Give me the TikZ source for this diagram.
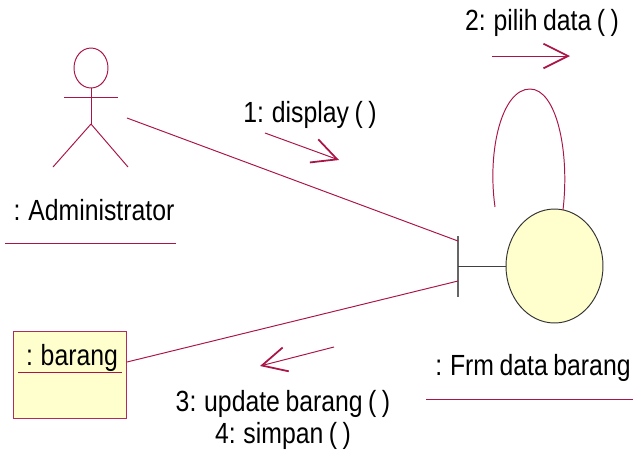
\documentclass[tikz,border=0pt]{standalone}
\usepackage{fontspec}
\setmainfont[FakeStretch=0.85,WordSpace=0.8]{Liberation Sans}
\usepackage{xcolor}
\usetikzlibrary{shapes,arrows.meta}
\definecolor{rosewood}{RGB}{170,20,70}
\definecolor{lightyellow}{RGB}{255,255,206}
\tikzset{
  lnk/.style={rosewood,line width=.55pt},
  msg/.style={rosewood,line width=.55pt,-{Straight Barb[length=14pt,width=14pt,line width=1pt]}},
  lbl/.style={inner sep=0pt,font=\fontsize{16.6pt}{18.2pt}\selectfont,align=center},
  barline/.style={black!60,line width=.8pt},
}
\def\cn#1#2{\draw[lnk] (#1) to (#2);}
\newcommand{\cpt}[2]{\coordinate (#1) at (#2);}
\newcommand{\lab}[3]{\node[lbl] (#1) at (#2) {#3};}

\begin{document}
\begin{tikzpicture}[x=.02cm,y=-.02cm]
    \useasboundingbox (0,0) rectangle (633,451);

    % actor
    \node[draw=rosewood,line width=.55pt,ellipse,inner sep=0pt,minimum width=.68cm,minimum height=.8cm] (head) at (91,68) {};
    \cpt{hip}{91,124} \draw[lnk] (head.south) to (hip);
    \cpt{armL}{64,97} \cpt{armR}{118,97} \cn{armL}{armR}
    \cpt{legL}{53,167} \cn{hip}{legL}
    \cpt{legR}{128,167} \cn{hip}{legR}
    \lab{admin}{94,210}{: Administrator}
    \cpt{adminA}{5,243} \cpt{adminB}{176,243} \cn{adminA}{adminB}

    % boundary
    \node[draw=black!80,fill=lightyellow,line width=.55pt,ellipse,inner sep=0pt,minimum width=1.94cm,minimum height=2.28cm] (frm) at (554.5,266) {};
    \cpt{barT}{458,236} \cpt{barB}{458,297} \draw[barline] (barT) to (barB);
    \cpt{barM}{458,266} \draw[black!75,line width=.55pt] (barM) to (frm.west);
    \lab{frmlbl}{533,368}{: Frm data barang}
    \cpt{frmA}{426,399} \cpt{frmB}{633,399} \cn{frmA}{frmB}

    % entity
    \node[draw=rosewood!90,fill=lightyellow,line width=.55pt,inner sep=0pt,minimum width=2.26cm,minimum height=1.74cm] (box) at (69.5,374.5) {};
    \lab{barang}{72,358}{: barang}
    \cpt{boxA}{18,372} \cpt{boxB}{122,372} \cn{boxA}{boxB}

    % links
    \cpt{actorEnd}{127,118} \cpt{barIn}{458,241} \cn{actorEnd}{barIn}
    \cpt{boxEnd}{127,362} \cpt{barOut}{458,281} \cn{boxEnd}{barOut}
    \cpt{loopA}{495,207} \cpt{loopB}{563,210}
    \draw[lnk] (loopA) .. controls (487,150) and (502,89) .. (530,89) .. controls (556,89) and (570,150) .. (loopB);

    % messages
    \lab{m1}{310,115}{1: display ( )}
    \cpt{m1A}{265,133} \cpt{m1B}{339,160} \draw[msg] (m1A) to (m1B);
    \lab{m2}{542,23}{2: pilih data ( )}
    \cpt{m2A}{492,56} \cpt{m2B}{570,56} \draw[msg] (m2A) to (m2B);
    \cpt{m3A}{334,347} \cpt{m3B}{260,366} \draw[msg] (m3A) to (m3B);
    \lab{m3}{283,420}{3: update barang ( )\\4: simpan ( )}

\end{tikzpicture}
\end{document}
